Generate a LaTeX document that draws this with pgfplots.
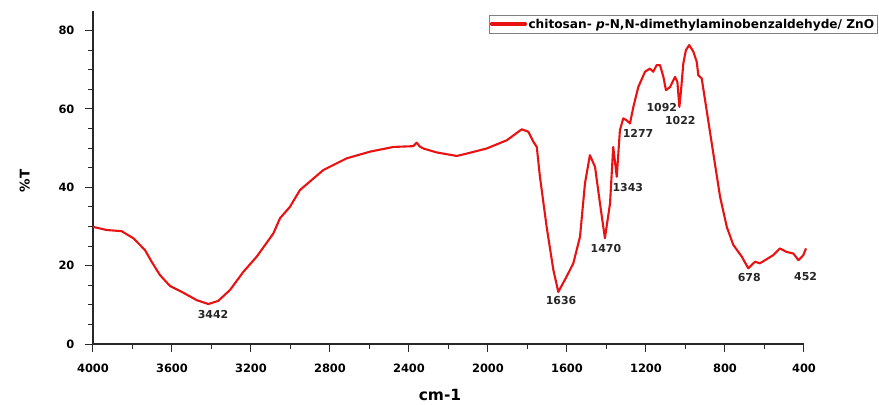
\documentclass[border=0pt]{standalone}
\usepackage{pgfplots}
\pgfplotsset{compat=1.18}
\usepackage{fontspec}
\setmainfont{DejaVu Sans}
\definecolor{specred}{RGB}{232,18,18}
\definecolor{axgray}{RGB}{40,40,40}
\begin{document}
\begin{tikzpicture}
\useasboundingbox (-93bp,-61bp) rectangle (786bp,344bp);
\begin{axis}[
  at={(0,0)}, anchor=south west,
  scale only axis, width=711bp, height=333bp,
  x dir=reverse,
  xmin=400, xmax=4000, ymin=0, ymax=85,
  axis lines=left,
  axis line style={-, line width=1.2bp, color=axgray},
  xtick={400,800,...,4000}, minor x tick num=1,
  ytick={0,20,40,60,80}, minor y tick num=3,
  tick align=outside,
  major tick length=8bp, minor tick length=5bp,
  every tick/.style={line width=1bp, color=axgray},
  /pgf/number format/assume math mode=true,
  /pgf/number format/1000 sep={},
  tick label style={font=\bfseries\fontsize{11.5}{14}\selectfont},
  xticklabel style={yshift=-8bp},
  yticklabel style={xshift=-7bp},
  xlabel={cm-1}, ylabel={\%T},
  every axis x label/.style={at={(axis description cs:0.488,-0.153)}, anchor=center, font=\bfseries\fontsize{15.5}{17}\selectfont},
  every axis y label/.style={at={(axis description cs:-0.096,0.49)}, rotate=90, anchor=center, font=\bfseries\fontsize{13.5}{16}\selectfont},
  legend style={at={(1.104,0.988)}, anchor=north east, draw=gray, line width=0.6bp, inner sep=1.5bp, font=\bfseries\fontsize{12.2}{14}\selectfont, legend cell align=left},
  clip=false,
]
\addplot[specred, line width=2.1bp, line join=round,
  legend image code/.code={\fill[specred] (0bp,-1bp) rectangle (34bp,1bp);}] coordinates {
(4000,29.9) (3931,29.1) (3855,28.8) (3796,27.0) (3737,24.0) (3703,21.0)
(3661,17.6) (3610,14.8) (3543,13.1) (3475,11.2) (3416,10.2) (3366,11.0)
(3306,13.8) (3239,18.4) (3171,22.3) (3087,28.2) (3053,32.1) (3003,35.0)
(2952,39.3) (2834,44.4) (2715,47.4) (2597,49.1) (2479,50.3) (2378,50.5)
(2361,51.4) (2345,50.4) (2327,49.9) (2260,48.9) (2158,48.0) (2108,48.6)
(2007,49.9) (1905,52.0) (1829,54.8) (1796,54.2) (1770,51.6) (1753,50.3)
(1737,42.7) (1703,29.9) (1669,18.9) (1644,13.3) (1602,17.2) (1568,20.6)
(1534,27.4) (1509,41.0) (1484,48.2) (1458,45.2) (1433,35.9) (1408,27.0)
(1382,35.9) (1366,50.3) (1348,42.7) (1332,54.6) (1315,57.6) (1298,57.1)
(1281,56.3) (1264,60.5) (1239,65.6) (1205,69.5) (1180,70.3) (1163,69.5)
(1146,71.2) (1129,71.2) (1112,68.2) (1099,64.8) (1078,65.6) (1053,68.2)
(1041,66.9) (1031,60.5) (1024,63.9) (1011,71.6) (998,75.0) (981,76.3)
(960,74.6) (943,72.0) (935,68.6) (918,67.8) (893,59.7) (859,48.6)
(825,37.6) (791,29.9) (758,25.3) (715,22.3) (682,19.3) (648,21.0)
(623,20.6) (581,21.9) (555,22.7) (522,24.4) (488,23.5) (454,23.1)
(428,21.4) (403,22.7) (390,24.4)
};
\addlegendentry{chitosan- \textit{p}-N,N-dimethylaminobenzaldehyde/ ZnO}
\begin{scope}[every node/.style={font=\bfseries\fontsize{11}{13}\selectfont, text=black!85}]
\node at (axis cs:3392,7.4) {3442};
\node at (axis cs:1630,11.2) {1636};
\node at (axis cs:1403,24.4) {1470};
\node at (axis cs:1292,40.0) {1343};
\node at (axis cs:1240,53.7) {1277};
\node at (axis cs:1120,60.3) {1092};
\node at (axis cs:1026,57.0) {1022};
\node at (axis cs:677,16.9) {678};
\node at (axis cs:392,17.2) {452};
\end{scope}
\end{axis}
\end{tikzpicture}
\end{document}
